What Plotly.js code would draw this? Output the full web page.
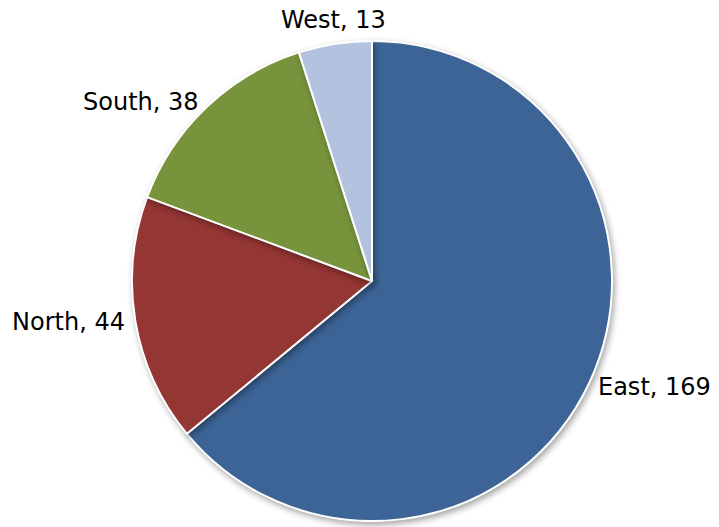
<!DOCTYPE html>
<html>
<head>
<meta charset="utf-8">
<script src="https://cdn.plot.ly/plotly-3.0.1.min.js"></script>
<style>
html,body{margin:0;padding:0;background:#fff;}
#chart{width:719px;height:527px;}
.pielayer path.surface{filter:drop-shadow(2px 3px 3px rgba(0,0,0,0.35));}
</style>
</head>
<body>
<div id="chart"></div>
<script>
const categories = ["East", "North", "South", "West"];
const values = [169, 44, 38, 13];
const colors = ["#3C6496", "#943634", "#77933C", "#B3C2DE"];

// Data labels placed just outside the rim at each slice's mid-angle (computed from values)
const plotW = 480, gapPx = 8;
const total = values.reduce((a, b) => a + b, 0);
let cum = 0;
const annotations = categories.map((c, i) => {
  const mid = (cum + values[i] / 2) / total * 2 * Math.PI;
  cum += values[i];
  const s = Math.sin(mid), co = Math.cos(mid);
  const r = 0.5 + gapPx / plotW;
  const nearVertical = Math.abs(s) < 0.3;
  return {
    xref: "paper", yref: "paper",
    x: 0.5 + r * s, y: 0.5 + r * co,
    text: c + ", " + values[i],
    showarrow: false,
    xanchor: nearVertical ? "center" : (s > 0 ? "left" : "right"),
    yanchor: nearVertical ? (co > 0 ? "bottom" : "top") : "middle",
    font: {family: "DejaVu Sans, sans-serif", size: 24, color: "#000000"}
  };
});

Plotly.newPlot("chart", [{
  type: "pie",
  labels: categories,
  values: values,
  sort: false,
  direction: "clockwise",
  rotation: 0,
  marker: {colors: colors, line: {color: "#ffffff", width: 2}},
  textinfo: "none",
  hoverinfo: "none",
  automargin: false
}], {
  width: 719,
  height: 527,
  margin: {l: 132, r: 107, t: 41, b: 6},
  showlegend: false,
  paper_bgcolor: "#ffffff",
  annotations: annotations
}, {displayModeBar: false, staticPlot: true});
</script>
</body>
</html>
